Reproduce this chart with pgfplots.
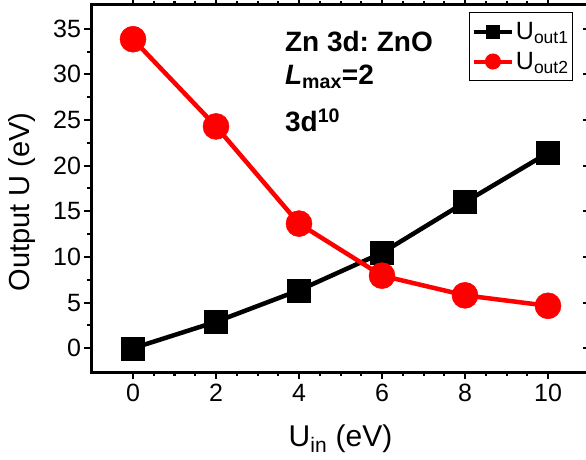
\documentclass[border=0pt]{standalone}
\usepackage{fontspec}
\setmainfont{Liberation Sans}
\usepackage{pgfplots}
\pgfplotsset{compat=1.18}
\begin{document}
\frenchspacing
\begin{tikzpicture}
\path[use as bounding box] (-91.5pt,-88pt) rectangle (494.5pt,372pt);
\begin{axis}[
  at={(0pt,0pt)}, anchor=south west, scale only axis,
  width=498pt, height=367pt,
  xmin=-1, xmax=11, ymin=-2.6, ymax=37.6,
  xtick={0,2,4,6,8,10}, ytick={0,5,10,15,20,25,30,35},
  minor x tick num=3, minor y tick num=1,
  tick align=outside, ytick pos=left,
  axis line style={line width=3pt},
  major tick length=7pt, minor tick length=4pt,
  every tick/.style={black, line width=2pt},
  /pgf/number format/assume math mode=true,
  tick label style={font=\fontsize{25}{25}\selectfont},
  xticklabel style={yshift=-2pt},
  xlabel={U\textsubscript{in} (eV)},
  ylabel={Output U (eV)},
  every axis x label/.style={at={(axis description cs:0.5,0)}, anchor=base, yshift=-74pt, font=\fontsize{30}{30}\selectfont},
  every axis y label/.style={at={(axis description cs:-0.1396,0.463)}, anchor=center, rotate=90, font=\fontsize{29}{29}\selectfont},
  legend style={at={(rel axis cs:0.967,0.981)}, anchor=north east, draw=black, line width=1pt,
    font=\fontsize{25}{27}\selectfont, inner xsep=2pt, inner ysep=8pt, row sep=7pt},
  legend cell align=left,
  legend image code/.code={\draw[mark repeat=2,mark phase=2,#1] plot coordinates {(0pt,0pt) (19pt,0pt) (38pt,0pt)};},
]
\addplot[black, line width=4.5pt, mark=square*, mark size=11.5pt, mark options={solid, line width=0.5pt}, forget plot]
  coordinates {(0,0) (2,2.9) (4,6.35) (6,10.45) (8,16.0) (10,21.4)};
\addplot[red, line width=4.5pt, mark=*, mark size=13pt, mark options={solid, line width=0.5pt}, forget plot]
  coordinates {(0,33.85) (2,24.3) (4,13.65) (6,7.95) (8,5.8) (10,4.65)};
\addlegendimage{black, line width=4pt, mark=square*, mark size=5pt, mark options={solid}}
\addlegendentry{U\textsubscript{out1}}
\addlegendimage{red, line width=4pt, mark=*, mark size=6pt, mark options={solid}}
\addlegendentry{U\textsubscript{out2}}
\node[anchor=base west, inner sep=0pt, font=\bfseries\fontsize{28}{28}\selectfont] at (axis cs:3.66,32.5) {Zn 3d: ZnO};
\node[anchor=base west, inner sep=0pt, font=\bfseries\fontsize{28}{28}\selectfont] at (axis cs:3.66,28.9) {\textit{L}\textsubscript{max}=2};
\node[anchor=base west, inner sep=0pt, font=\bfseries\fontsize{28}{28}\selectfont] at (axis cs:3.66,23.7) {3d\textsuperscript{10}};
\end{axis}
\begin{axis}[
  at={(0pt,0pt)}, anchor=south west, scale only axis,
  width=498pt, height=367pt,
  xmin=-1, xmax=11, ymin=-2.6, ymax=37.6,
  axis x line=none, axis y line*=right,
  ytick={0,5,10,15,20,25,30,35}, minor y tick num=1,
  yticklabels={}, tick align=inside,
  axis line style={line width=3pt},
  major tick length=7pt, minor tick length=4pt,
  every tick/.style={black, line width=2pt},
]
\end{axis}
\end{tikzpicture}
\end{document}
